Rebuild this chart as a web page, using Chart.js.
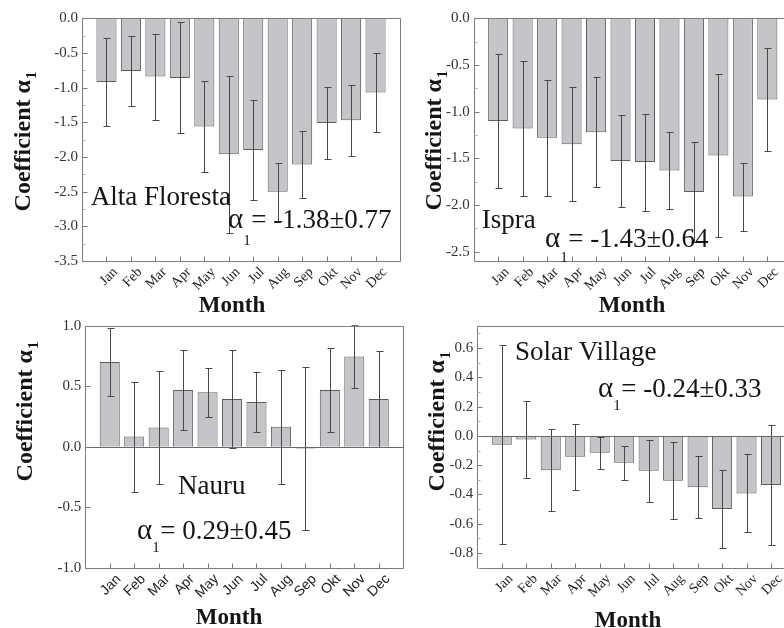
<!DOCTYPE html>
<html><head><meta charset="utf-8">
<script src="https://cdn.jsdelivr.net/npm/chart.js@4.4.1/dist/chart.umd.min.js"></script>
<style>
html,body{margin:0;padding:0;background:#fff;width:784px;height:628px;overflow:hidden;position:relative}
canvas{position:absolute}
</style></head><body>
<canvas id="c1"></canvas><canvas id="c2"></canvas><canvas id="c3"></canvas><canvas id="c4"></canvas>
<script>
const months = ['Jan','Feb','Mar','Apr','May','Jun','Jul','Aug','Sep','Okt','Nov','Dec'];

const altaValues = [-0.92,-0.76,-0.84,-0.86,-1.56,-1.96,-1.90,-2.50,-2.11,-1.51,-1.47,-1.07];
const altaErrors = [0.64,0.51,0.62,0.80,0.66,1.13,0.72,0.42,0.48,0.52,0.51,0.57];
const altaTicks = [0,-0.5,-1,-1.5,-2,-2.5,-3,-3.5];

const ispraValues = [-1.10,-1.18,-1.28,-1.35,-1.22,-1.53,-1.54,-1.63,-1.86,-1.47,-1.91,-0.87];
const ispraErrors = [0.72,0.72,0.62,0.61,0.59,0.49,0.52,0.415,0.54,0.875,0.365,0.55];
const ispraTicks = [0,-0.5,-1,-1.5,-2,-2.5];

const nauruValues = [0.70,0.085,0.16,0.47,0.45,0.395,0.37,0.165,-0.013,0.47,0.746,0.395];
const nauruErrors = [0.28,0.454,0.466,0.333,0.202,0.403,0.246,0.472,0.673,0.35,0.262,0.395];
const nauruTicks = [1,0.5,0,-0.5,-1];

const solarValues = [-0.06,-0.025,-0.235,-0.142,-0.115,-0.183,-0.238,-0.306,-0.35,-0.5,-0.393,-0.336];
const solarErrors = [0.68,0.26,0.28,0.225,0.11,0.116,0.213,0.263,0.213,0.268,0.266,0.411];
const solarTicks = [0.6,0.4,0.2,0,-0.2,-0.4,-0.6,-0.8];

const SERIF = '"Liberation Serif","Times New Roman",serif';
const SANS = '"Liberation Sans",Arial,sans-serif';

const panels = [
  {id:'c1', cx:0, cy:0, cw:420, ch:320, area:[82,18.3,400,261], yMin:-3.5, yMax:0, ticks:altaTicks, minor:0.25,
   values:altaValues, errors:altaErrors, xFont:SERIF, zero:false,
   name:{text:'Alta Floresta', x:90.7, y:205}, formula:{text:'= -1.38\u00b10.77', x:228, y:228, sub:17},
   yTitle:{x:30, y:142}, xTitle:{x:232, y:312}},
  {id:'c2', cx:400, cy:0, cw:420, ch:320, area:[473.7,18.3,791.8,261], yMin:-2.6, yMax:0, ticks:ispraTicks, minor:0.25,
   values:ispraValues, errors:ispraErrors, xFont:SERIF, zero:false,
   name:{text:'Ispra', x:481.7, y:227.7}, formula:{text:'= -1.43\u00b10.64', x:545, y:246.7, sub:15},
   yTitle:{x:441, y:141}, xTitle:{x:632, y:311.7}},
  {id:'c3', cx:0, cy:310, cw:420, ch:318, area:[85.3,325.7,403.2,568], yMin:-1, yMax:1, ticks:nauruTicks, minor:0,
   values:nauruValues, errors:nauruErrors, xFont:SANS, zero:true,
   name:{text:'Nauru', x:178, y:494.3}, formula:{text:'= 0.29\u00b10.45', x:137, y:539, sub:13},
   yTitle:{x:32, y:412}, xTitle:{x:229, y:624}},
  {id:'c4', cx:400, cy:310, cw:420, ch:318, area:[477.3,326,795.5,567.7], yMin:-0.9, yMax:0.75, ticks:solarTicks, minor:0.1,
   values:solarValues, errors:solarErrors, xFont:SERIF, zero:true,
   name:{text:'Solar Village', x:515, y:360}, formula:{text:'= -0.24\u00b10.33', x:598, y:396.7, sub:13},
   yTitle:{x:444, y:422}, xTitle:{x:628, y:626.7}}
];

const deco = {
  id:'deco',
  afterDatasetsDraw(chart){
    const p = chart.$panel, ctx = chart.ctx, xs = chart.scales.x, ys = chart.scales.y, a = chart.chartArea;
    ctx.save();
    ctx.beginPath(); ctx.rect(a.left, a.top - 0.5, a.right - a.left, a.bottom - a.top + 1); ctx.clip();
    ctx.strokeStyle = '#474747'; ctx.lineWidth = 1;
    p.values.forEach((v, i) => {
      const e = p.errors[i];
      const x = Math.round(xs.getPixelForValue(i + 1)) + 0.5;
      const y1 = Math.round(ys.getPixelForValue(v + e)) + 0.5, y2 = Math.round(ys.getPixelForValue(v - e)) + 0.5;
      ctx.beginPath();
      ctx.moveTo(x, y1); ctx.lineTo(x, y2);
      ctx.moveTo(x - 3, y1); ctx.lineTo(x + 4, y1);
      ctx.moveTo(x - 3, y2); ctx.lineTo(x + 4, y2);
      ctx.stroke();
    });
    ctx.restore();
  },
  afterDraw(chart){
    const p = chart.$panel, ctx = chart.ctx, xs = chart.scales.x, ys = chart.scales.y, a = chart.chartArea;
    const L = Math.round(a.left) + 0.5, R = Math.round(a.right) + 0.5, T = Math.round(a.top) + 0.5, B = Math.round(a.bottom) + 0.5;
    ctx.save();
    ctx.strokeStyle = '#7c7c7c'; ctx.lineWidth = 1;
    ctx.beginPath();
    ctx.moveTo(L, T); ctx.lineTo(R, T); ctx.lineTo(R, B); ctx.lineTo(L, B); ctx.closePath();
    ctx.stroke();
    if (p.zero) {
      const z = Math.round(ys.getPixelForValue(0)) + 0.5;
      ctx.strokeStyle = '#6a6a6a';
      ctx.beginPath(); ctx.moveTo(L, z); ctx.lineTo(R, z); ctx.stroke();
    }
    ctx.strokeStyle = '#7c7c7c';
    ctx.beginPath();
    months.forEach((m, i) => {
      const x = Math.round(xs.getPixelForValue(i + 1)) + 0.5;
      ctx.moveTo(x, B); ctx.lineTo(x, B - 5);
    });
    p.ticks.forEach(v => {
      const y = Math.round(ys.getPixelForValue(v)) + 0.5;
      ctx.moveTo(L, y); ctx.lineTo(L + 5, y);
    });
    ctx.stroke();
    if (p.minor) {
      ctx.strokeStyle = '#b0b0b0';
      ctx.beginPath();
      const n = Math.round((p.yMax - p.yMin) / p.minor);
      for (let k = 0; k <= n + 1; k++) {
        const v = Math.round((Math.ceil(p.yMin / p.minor) + k) * p.minor * 1000) / 1000;
        if (v > p.yMax || v < p.yMin) continue;
        if (p.ticks.some(t => Math.abs(t - v) < 1e-6)) continue;
        const y = Math.round(ys.getPixelForValue(v)) + 0.5;
        ctx.moveTo(L, y); ctx.lineTo(L + 3, y);
      }
      ctx.stroke();
    }
    const ox = p.cx, oy = p.cy;
    ctx.fillStyle = '#151515';
    ctx.textBaseline = 'alphabetic';
    ctx.textAlign = 'left';
    ctx.font = '27px ' + SERIF;
    ctx.fillText(p.name.text, p.name.x - ox, p.name.y - oy);
    const f = p.formula;
    ctx.font = '29px ' + SERIF;
    const wa = ctx.measureText('\u03b1').width;
    ctx.fillText('\u03b1', f.x - ox, f.y - oy);
    ctx.font = '27px ' + SERIF;
    ctx.fillText(f.text, f.x - ox + wa + 8, f.y - oy);
    ctx.font = '15px ' + SERIF;
    ctx.fillText('1', f.x - ox + wa + 0, f.y - oy + f.sub);
    // y title
    ctx.save();
    ctx.translate(p.yTitle.x - ox, p.yTitle.y - oy);
    ctx.rotate(-Math.PI / 2);
    ctx.font = 'bold 24px ' + SERIF;
    const main = 'Coefficient \u03b1';
    const wm = ctx.measureText(main).width;
    ctx.font = 'bold 15px ' + SERIF;
    const ws = ctx.measureText('1').width;
    const start = -(wm + ws) / 2;
    ctx.font = 'bold 24px ' + SERIF;
    ctx.fillText(main, start, 0);
    ctx.font = 'bold 15px ' + SERIF;
    ctx.fillText('1', start + wm + 1, 6);
    ctx.restore();
    // x title
    ctx.font = 'bold 23px ' + SERIF;
    ctx.textAlign = 'center';
    ctx.fillText('Month', p.xTitle.x - ox, p.xTitle.y - oy);
    ctx.restore();
  }
};

const YW = 40, XH = 40;
panels.forEach(p => {
  const el = document.getElementById(p.id);
  el.style.left = p.cx + 'px'; el.style.top = p.cy + 'px';
  el.width = p.cw; el.height = p.ch;
  el.style.width = p.cw + 'px'; el.style.height = p.ch + 'px';
  const L = p.area[0] - p.cx, T = p.area[1] - p.cy, R = p.area[2] - p.cx, B = p.area[3] - p.cy;
  const chart = new Chart(el, {
    type: 'bar',
    data: { datasets: [{
      data: p.values.map((v, i) => ({x: i + 1, y: v})),
      backgroundColor: '#c6c4c9', borderColor: '#5c5c5c', borderWidth: 1,
      barPercentage: 0.82, categoryPercentage: 1
    }]},
    options: {
      responsive: false, animation: false, devicePixelRatio: 1,
      layout: { padding: { left: L - YW, top: T, right: p.cw - R, bottom: p.ch - B - XH } },
      plugins: { legend: {display: false}, tooltip: {enabled: false} },
      scales: {
        x: {
          type: 'linear', min: 0, max: 13, offset: false,
          grid: {display: false, drawTicks: false}, border: {display: false},
          ticks: {autoSkip: false, maxRotation: 45, minRotation: 45, padding: 3, labelOffset: 9,
                  font: {family: p.xFont, size: 14}, color: '#222',
                  callback: v => months[v - 1] || ''},
          afterBuildTicks: s => { s.ticks = months.map((m, i) => ({value: i + 1})); },
          afterFit: s => { s.height = XH; s.paddingLeft = 0; s.paddingRight = 0; s.paddingTop = 0; s.paddingBottom = 0; }
        },
        y: {
          min: p.yMin, max: p.yMax,
          grid: {display: false, drawTicks: false}, border: {display: false},
          ticks: {padding: 4, font: {family: SERIF, size: 15}, color: '#333', callback: v => v.toFixed(1)},
          afterBuildTicks: s => { s.ticks = p.ticks.map(v => ({value: v})); },
          afterFit: s => { s.width = YW; s.paddingTop = 0; s.paddingBottom = 0; s.paddingLeft = 0; s.paddingRight = 0; }
        }
      }
    },
    plugins: [{id:'attach', beforeInit(c){ c.$panel = p; }}, deco]
  });
});
</script>
</body></html>
